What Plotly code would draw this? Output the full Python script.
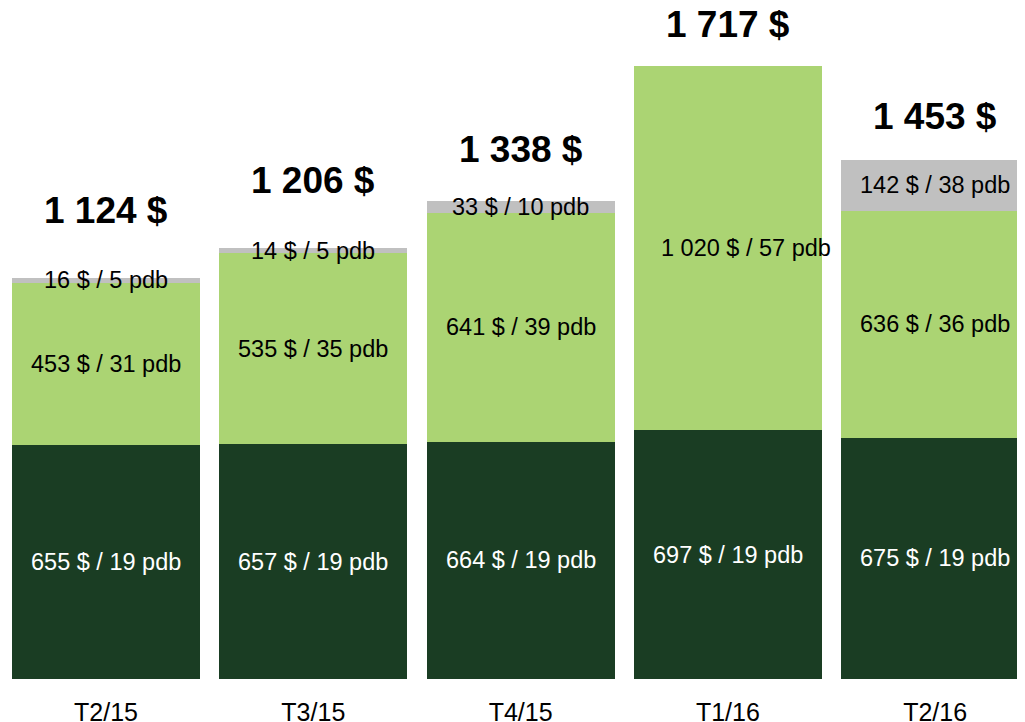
import plotly.graph_objects as go

quarters = ["T2/15", "T3/15", "T4/15", "T1/16", "T2/16"]
base_usd = [655, 657, 664, 697, 675]
base_pdb = [19, 19, 19, 19, 19]
mid_usd = [453, 535, 641, 1020, 636]
mid_pdb = [31, 35, 39, 57, 36]
top_usd = [16, 14, 33, 0, 142]
top_pdb = [5, 5, 10, 0, 38]
totals = [1124, 1206, 1338, 1717, 1453]

DARK = "#1a3d23"
LIGHT = "#abd473"
GREY = "#c0c0c0"
FONT = "Liberation Sans, Arial, sans-serif"

# pixel gap between bar top and the total label (as in the original slide)
total_gap = [67, 68, 52, 41, 44]


def fmt(v):
    return f"{v:,}".replace(",", " ")


x = list(range(len(quarters)))
fig = go.Figure()
for vals, col in [(base_usd, DARK), (mid_usd, LIGHT), (top_usd, GREY)]:
    fig.add_trace(go.Bar(x=x, y=vals, marker=dict(color=col, line=dict(width=0)),
                         width=0.907, hoverinfo="skip"))

ann = []
seg_size = 23.5
for i in x:
    ann.append(dict(x=i, y=base_usd[i] / 2, text=f"{fmt(base_usd[i])} $ / {base_pdb[i]} pdb",
                    font=dict(color="white", size=seg_size, family=FONT), showarrow=False))
    ann.append(dict(x=i, y=base_usd[i] + mid_usd[i] / 2,
                    text=f"{fmt(mid_usd[i])} $ / {mid_pdb[i]} pdb",
                    xshift=18 if top_usd[i] == 0 else 0,
                    font=dict(color="black", size=seg_size, family=FONT), showarrow=False))
    if top_usd[i]:
        ann.append(dict(x=i, y=base_usd[i] + mid_usd[i] + top_usd[i] / 2,
                        text=f"{fmt(top_usd[i])} $ / {top_pdb[i]} pdb",
                        font=dict(color="black", size=seg_size, family=FONT), showarrow=False))
    ann.append(dict(x=i, y=totals[i], yshift=total_gap[i], text=f"<b>{fmt(totals[i])} $</b>",
                    font=dict(color="black", size=37, family=FONT), showarrow=False))

fig.update_layout(
    barmode="stack",
    width=1025,
    height=718,
    showlegend=False,
    plot_bgcolor="white",
    paper_bgcolor="white",
    margin=dict(l=0, r=0, t=0, b=43),
    annotations=ann,
    xaxis=dict(range=[-0.473, 4.472], tickvals=x, ticktext=quarters, showgrid=False,
               zeroline=False, showline=False, ticks="", ticklabelstandoff=16,
               tickfont=dict(size=25, family=FONT, color="black")),
    yaxis=dict(range=[0, 1879], visible=False),
)

fig.write_html("out.html")
